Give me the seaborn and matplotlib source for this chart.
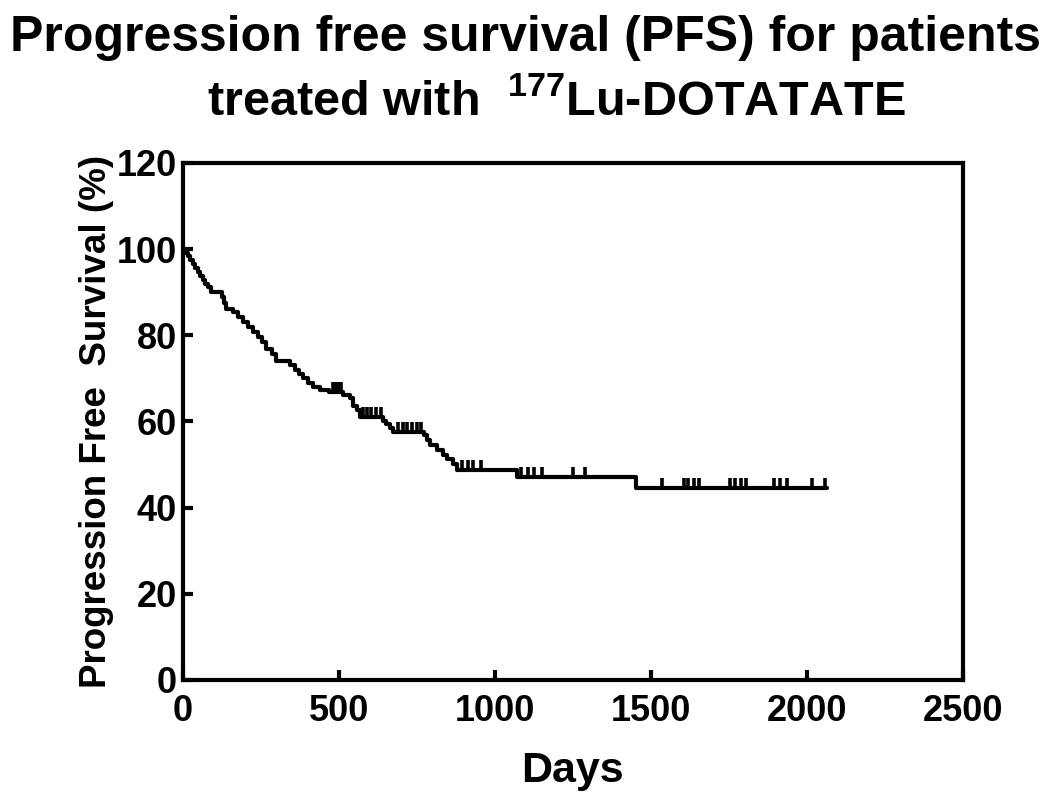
import numpy as np
import pandas as pd
import matplotlib
matplotlib.use('Agg')
import matplotlib.pyplot as plt
import seaborn as sns

# Kaplan-Meier steps (days, PFS %)
tempos = [0, 8, 16, 24, 32, 40, 48, 56, 64, 72, 80, 90, 126, 132, 140, 160, 176, 192, 208, 225,
          240, 255, 268, 285, 300, 345, 360, 372, 385, 400, 418, 440, 470, 513, 535, 545, 558, 567,
          643, 650, 663, 673, 772, 782, 791, 814, 833, 846, 865, 878, 1072, 1452, 2064]
sobrevida = [100, 99.2, 98.3, 97.4, 96.5, 95.6, 94.7, 93.8, 92.9, 92.0, 91.1, 90.0, 88.9, 87.6,
             86.0, 85.3, 84.2, 83.1, 82.0, 80.8, 79.6, 78.4, 76.9, 75.7, 74.0, 73.2, 72.0, 71.0,
             70.0, 69.0, 68.0, 67.3, 66.8, 66.1, 65.4, 63.6, 62.6, 61.1, 60.0, 59.3, 58.5, 57.6,
             56.9, 55.8, 54.6, 53.4, 52.2, 51.2, 50.1, 48.8, 47.0, 44.5, 44.5]

# censored observations (tick marks)
censurados = [482, 490, 500, 508, 577, 590, 605, 620, 635, 690, 705, 720, 735, 750, 765,
              895, 915, 930, 955, 1085, 1105, 1125, 1150, 1250, 1290,
              1535, 1605, 1620, 1640, 1655, 1755, 1770, 1790, 1805, 1895, 1915, 1935,
              2016, 2058]

sns.set_style('ticks')
plt.rcParams['font.family'] = ['Liberation Sans', 'DejaVu Sans']
plt.rcParams['font.weight'] = 'bold'
plt.rcParams['mathtext.fontset'] = 'custom'
plt.rcParams['mathtext.rm'] = 'Liberation Sans:bold'
plt.rcParams['mathtext.bf'] = 'Liberation Sans:bold'
for k in ['text.color', 'axes.labelcolor', 'xtick.color', 'ytick.color', 'axes.edgecolor']:
    plt.rcParams[k] = 'black'

df = pd.DataFrame({'Days': tempos, 'PFS': sobrevida})

fig = plt.figure(figsize=(10.5, 7.99), dpi=100)
ax = fig.add_axes([0.174, 0.149, 0.743, 0.647])

sns.lineplot(data=df, x='Days', y='PFS', ax=ax, color='black', linewidth=3,
             drawstyle='steps-post', estimator=None)

# altura dos censurados no degrau correspondente
idx = np.searchsorted(tempos, censurados, side='right') - 1
y_cens = np.array(sobrevida)[idx]
ax.plot(censurados, y_cens, linestyle='none', marker=2, markersize=7,
        markeredgewidth=2.6, color='black')

ax.set_xlim(0, 2500)
ax.set_ylim(0, 120)
ax.set_xticks(range(0, 2501, 500))
ax.set_yticks(range(0, 121, 20))
ax.tick_params(direction='in', length=7, width=3, labelsize=26)
ax.tick_params(axis='x', pad=10)
ax.tick_params(axis='y', pad=4)
for s in ax.spines.values():
    s.set_linewidth(3)
    s.set_visible(True)

ax.set_xlabel('Days', fontsize=31, fontweight='bold', labelpad=16)
ax.set_ylabel('Progression Free  Survival (%)', fontsize=26.5, fontweight='bold', labelpad=2)

fig.text(0.5, 0.952, 'Progression free survival (PFS) for patients', ha='center', va='center',
         fontsize=36, fontweight='bold')
fig.text(0.53, 0.872, r'treated with  $^{177}$Lu-DOTATATE', ha='center', va='center',
         fontsize=35, fontweight='bold')

fig.savefig('out.png', dpi=100)
